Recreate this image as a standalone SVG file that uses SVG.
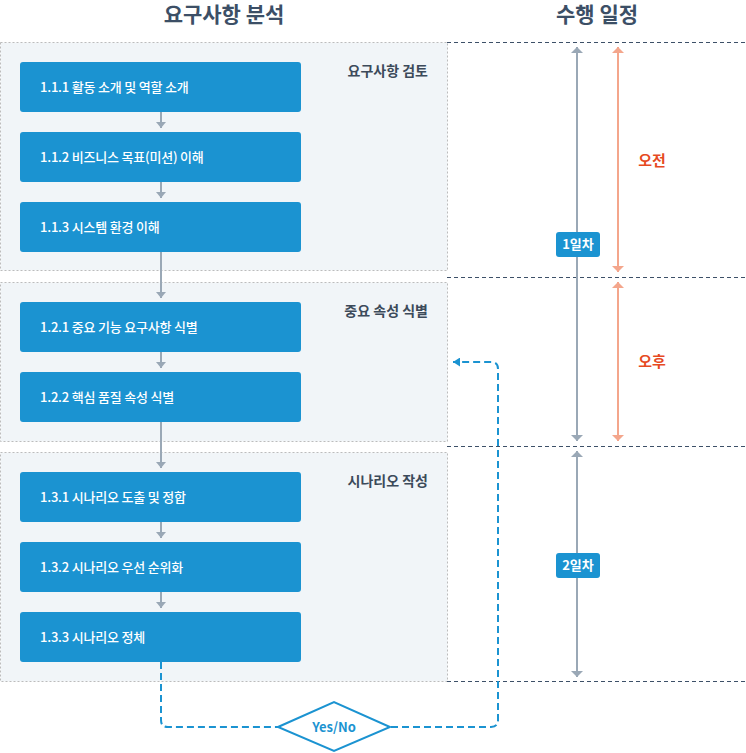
<svg xmlns="http://www.w3.org/2000/svg" width="746" height="753" viewBox="0 0 746 753">
<defs>
<style>
text{font-family:"Noto Sans CJK KR","Noto Sans",sans-serif}
.hdr{font-size:21px;font-weight:700;fill:#3c4f66;text-anchor:middle}
.sec{font-size:14px;font-weight:700;fill:#3c4a5a;text-anchor:end}
.panel{fill:#f1f5f8;stroke:#bcbcbc;stroke-width:1;stroke-dasharray:2 2}
.box{fill:#1b93d1}
.bt{font-size:13px;font-weight:500;fill:#fff;letter-spacing:-0.2px}
.sep{stroke:#3d5068;stroke-width:1;stroke-dasharray:4 3;fill:none}
.ga{stroke:#9aa8b6;stroke-width:2;fill:none}
.sa{stroke:#f4a68c;stroke-width:2;fill:none}
.loop{stroke:#1b93d1;stroke-width:2;fill:none;stroke-dasharray:7 4}
.badge{fill:#1b93d1}
.bdt{font-size:13px;font-weight:700;fill:#fff;text-anchor:middle}
.ampm{font-size:15px;font-weight:700;fill:#e64a1f;text-anchor:middle}
</style>
<marker id="mg" viewBox="0 0 6 10" refX="6" refY="5" markerWidth="6" markerHeight="10" markerUnits="userSpaceOnUse" orient="auto-start-reverse"><path d="M0,0 L6,5 L0,10 z" fill="#9aa8b6"/></marker>
<marker id="mgb" viewBox="0 0 6 12" refX="6" refY="6" markerWidth="6" markerHeight="12" markerUnits="userSpaceOnUse" orient="auto-start-reverse"><path d="M0,0 L6,6 L0,12 z" fill="#9aa8b6"/></marker>
<marker id="ms" viewBox="0 0 6 12" refX="6" refY="6" markerWidth="6" markerHeight="12" markerUnits="userSpaceOnUse" orient="auto-start-reverse"><path d="M0,0 L6,6 L0,12 z" fill="#f4a68c"/></marker>
<marker id="mb" viewBox="0 0 7 9" refX="7" refY="4.5" markerWidth="7" markerHeight="9" markerUnits="userSpaceOnUse" orient="auto"><path d="M0,0 L7,4.5 L0,9 z" fill="#1b93d1"/></marker>
</defs>

<text class="hdr" x="224" y="22">요구사항 분석</text>
<text class="hdr" x="597" y="22">수행 일정</text>

<g id="panels">
<rect id="panel1" class="panel" x="0.5" y="42.5" width="447" height="228"/>
<rect id="panel2" class="panel" x="0.5" y="282.5" width="447" height="159"/>
<rect id="panel3" class="panel" x="0.5" y="452.5" width="447" height="229"/>
</g>

<g id="separators">
<line class="sep" x1="447" y1="42.5" x2="746" y2="42.5"/>
<line class="sep" x1="447" y1="277.5" x2="746" y2="277.5"/>
<line class="sep" x1="447" y1="446.5" x2="746" y2="446.5"/>
<line class="sep" x1="447" y1="681.5" x2="746" y2="681.5"/>
</g>

<g id="sec1"><text class="sec" x="428" y="76">요구사항 검토</text></g>
<g id="sec2"><text class="sec" x="428" y="316">중요 속성 식별</text></g>
<g id="sec3"><text class="sec" x="428" y="486">시나리오 작성</text></g>

<g id="connectors">
<line class="ga" x1="161" y1="112" x2="161" y2="128" marker-end="url(#mg)"/>
<line class="ga" x1="161" y1="182" x2="161" y2="198" marker-end="url(#mg)"/>
<line class="ga" x1="161" y1="252" x2="161" y2="298" marker-end="url(#mg)"/>
<line class="ga" x1="161" y1="352" x2="161" y2="368" marker-end="url(#mg)"/>
<line class="ga" x1="161" y1="422" x2="161" y2="468" marker-end="url(#mg)"/>
<line class="ga" x1="161" y1="522" x2="161" y2="538" marker-end="url(#mg)"/>
<line class="ga" x1="161" y1="592" x2="161" y2="608" marker-end="url(#mg)"/>
<path class="loop" d="M161,662 V720 Q161,727 168,727 H278"/>
<path class="loop" d="M391,727 H491 Q498,727 498,720 V369 Q498,362 491,362 H453" marker-end="url(#mb)"/>
</g>

<g id="n111"><rect class="box" x="20" y="62" width="281" height="50" rx="3"/><text class="bt" x="40" y="92">1.1.1 활동 소개 및 역할 소개</text></g>
<g id="n112"><rect class="box" x="20" y="132" width="281" height="50" rx="3"/><text class="bt" x="40" y="162">1.1.2 비즈니스 목표(미션) 이해</text></g>
<g id="n113"><rect class="box" x="20" y="202" width="281" height="50" rx="3"/><text class="bt" x="40" y="232">1.1.3 시스템 환경 이해</text></g>
<g id="n121"><rect class="box" x="20" y="302" width="281" height="50" rx="3"/><text class="bt" x="40" y="332">1.2.1 중요 기능 요구사항 식별</text></g>
<g id="n122"><rect class="box" x="20" y="372" width="281" height="50" rx="3"/><text class="bt" x="40" y="402">1.2.2 핵심 품질 속성 식별</text></g>
<g id="n131"><rect class="box" x="20" y="472" width="281" height="50" rx="3"/><text class="bt" x="40" y="502">1.3.1 시나리오 도출 및 정합</text></g>
<g id="n132"><rect class="box" x="20" y="542" width="281" height="50" rx="3"/><text class="bt" x="40" y="572">1.3.2 시나리오 우선 순위화</text></g>
<g id="n133"><rect class="box" x="20" y="612" width="281" height="50" rx="3"/><text class="bt" x="40" y="642">1.3.3 시나리오 정체</text></g>

<g id="decision">
<polygon points="278,727 334,702 390,727 334,751" fill="#fff" stroke="#1b93d1" stroke-width="2"/>
<text x="334" y="731.5" font-size="13" font-weight="700" fill="#1b93d1" text-anchor="middle">Yes/No</text>
</g>

<g id="schedule">
<line class="ga" x1="577" y1="47" x2="577" y2="441" marker-start="url(#mgb)" marker-end="url(#mgb)"/>
<line class="ga" x1="577" y1="451" x2="577" y2="677" marker-start="url(#mgb)" marker-end="url(#mgb)"/>
<line class="sa" x1="618" y1="47" x2="618" y2="272" marker-start="url(#ms)" marker-end="url(#ms)"/>
<line class="sa" x1="618" y1="282" x2="618" y2="441" marker-start="url(#ms)" marker-end="url(#ms)"/>
</g>

<g id="day1"><rect class="badge" x="556" y="232" width="44" height="25" rx="3"/><text class="bdt" x="578" y="249">1일차</text></g>
<g id="day2"><rect class="badge" x="556" y="553" width="44" height="25" rx="3"/><text class="bdt" x="578" y="570">2일차</text></g>
<g id="am"><text class="ampm" x="652" y="166">오전</text></g>
<g id="pm"><text class="ampm" x="652" y="367">오후</text></g>
</svg>
